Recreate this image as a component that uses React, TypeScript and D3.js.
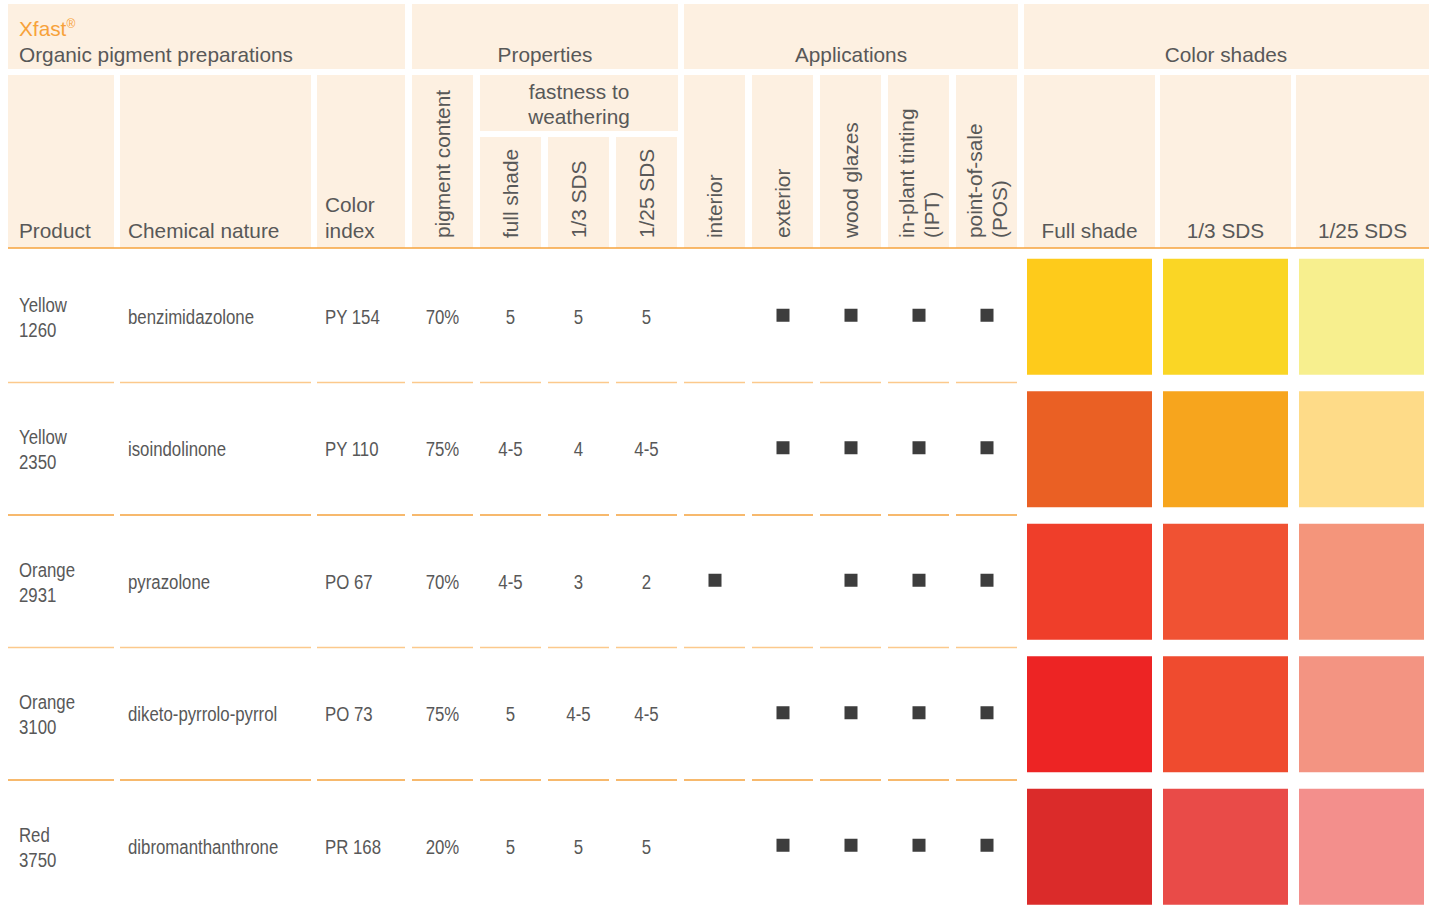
import * as d3 from "d3"

const productNames = ["Yellow", "Yellow", "Orange", "Orange", "Red"]
const productCodes = ["1260", "2350", "2931", "3100", "3750"]
const chemicalNature = ["benzimidazolone", "isoindolinone", "pyrazolone", "diketo-pyrrolo-pyrrol", "dibromanthanthrone"]
const colorIndex = ["PY 154", "PY 110", "PO 67", "PO 73", "PR 168"]
const pigmentContent = ["70%", "75%", "70%", "75%", "20%"]
const fastFull = ["5", "4-5", "4-5", "5", "5"]
const fastThird = ["5", "4", "3", "4-5", "5"]
const fastTwentyFifth = ["5", "4-5", "2", "4-5", "5"]

const appInterior = [false, false, true, false, false]
const appExterior = [true, true, false, true, true]
const appWood = [true, true, true, true, true]
const appIPT = [true, true, true, true, true]
const appPOS = [true, true, true, true, true]

const shadeNames = ["Full shade", "1/3 SDS", "1/25 SDS"]
const fullShadeColors = ["#fecb1b", "#ea6024", "#ef3e2a", "#ed2424", "#db2b2a"]
const thirdShadeColors = ["#fad625", "#f7a51d", "#f05233", "#ef4b2f", "#e94b48"]
const twentyFifthShadeColors = ["#f7ef8e", "#fedb88", "#f4957b", "#f39482", "#f38f8c"]

// layout
const W = 1434
const H = 911
const HEAD_BG = "#fdf0e1"
const TXT = "#585858"
const HEAD_FONT = "'Liberation Sans', Arial, sans-serif"
const DATA_FONT = "'Liberation Sans', Arial, sans-serif"
const NARROW = 0.8 // squeeze the data text into a condensed look

type Col = { key: string; x0: number; x1: number }
const cols: Col[] = [
  { key: "product", x0: 8, x1: 114 },
  { key: "chem", x0: 120, x1: 311 },
  { key: "ci", x0: 317, x1: 405 },
  { key: "pigment", x0: 412, x1: 473 },
  { key: "full", x0: 480, x1: 541 },
  { key: "third", x0: 548, x1: 609 },
  { key: "tf", x0: 616, x1: 677 },
  { key: "interior", x0: 684, x1: 745 },
  { key: "exterior", x0: 752, x1: 813 },
  { key: "wood", x0: 820, x1: 881 },
  { key: "ipt", x0: 888, x1: 949 },
  { key: "pos", x0: 956, x1: 1017 },
]
const colOf = (k: string) => cols.find((c) => c.key === k)!
const cx = (k: string) => (colOf(k).x0 + colOf(k).x1) / 2

const rowIdx = productCodes.map((_, i) => i)
const y = d3.scaleBand<number>().domain(rowIdx).range([250, 912.5]).padding(0)
const rowMid = (i: number) => (y(i) as number) + y.bandwidth() / 2

const xShade = d3.scaleBand<string>().domain(shadeNames).range([1021.5, 1429.5]).paddingInner(11 / 136).paddingOuter(5.5 / 136)
const shadeColors = [fullShadeColors, thirdShadeColors, twentyFifthShadeColors]

const rotHeads: { key: string; lines: string[] }[] = [
  { key: "pigment", lines: ["pigment content"] },
  { key: "full", lines: ["full shade"] },
  { key: "third", lines: ["1/3 SDS"] },
  { key: "tf", lines: ["1/25 SDS"] },
  { key: "interior", lines: ["interior"] },
  { key: "exterior", lines: ["exterior"] },
  { key: "wood", lines: ["wood glazes"] },
  { key: "ipt", lines: ["in-plant tinting", "(IPT)"] },
  { key: "pos", lines: ["point-of-sale", "(POS)"] },
]

const apps: [string, boolean[]][] = [
  ["interior", appInterior],
  ["exterior", appExterior],
  ["wood", appWood],
  ["ipt", appIPT],
  ["pos", appPOS],
]

function NText({ x, y, anchor, children }: { x: number; y: number; anchor?: string; children: any }) {
  return (
    <text transform={`translate(${x},${y}) scale(${NARROW},1)`} textAnchor={anchor}>
      {children}
    </text>
  )
}

export default function App() {
  const sepColor = (i: number) => (i % 2 === 0 ? "#fcc98c" : "#f5a23c")
  return (
    <svg width={W} height={H} style={{ position: "absolute", left: 0, top: 0, background: "#fff" }}>
      {/* header blocks */}
      <g fill={HEAD_BG}>
        <rect x={8} y={4} width={397} height={65} />
        <rect x={412} y={4} width={266} height={65} />
        <rect x={684} y={4} width={334} height={65} />
        <rect x={1024} y={4} width={405} height={65} />
        {cols.map((c) =>
          ["full", "third", "tf"].includes(c.key) ? (
            <rect key={c.key} x={c.x0} y={137} width={c.x1 - c.x0} height={111} />
          ) : (
            <rect key={c.key} x={c.x0} y={75} width={c.x1 - c.x0} height={173} />
          )
        )}
        <rect x={480} y={75} width={198} height={56} />
        {shadeNames.map((s, j) => (
          <rect key={s} x={[1024, 1160, 1296][j]} y={75} width={[131, 131, 133][j]} height={173} />
        ))}
      </g>
      <line x1={8} x2={1429} y1={248} y2={248} stroke="#f6a33d" strokeWidth={1.6} />

      <g fontFamily={HEAD_FONT} fontSize={20.8} fill={TXT}>
        <text x={19} y={36} fill="#f7a23a">
          Xfast<tspan fontSize={12} dy={-8}>®</tspan>
        </text>
        <text x={19} y={62}>Organic pigment preparations</text>
        <text x={545} y={62} textAnchor="middle">Properties</text>
        <text x={851} y={62} textAnchor="middle">Applications</text>
        <text x={1226} y={62} textAnchor="middle">Color shades</text>
        <text x={19} y={238}>Product</text>
        <text x={128} y={238}>Chemical nature</text>
        <text x={325} y={212}>Color</text>
        <text x={325} y={238}>index</text>
        <text x={579} y={99} textAnchor="middle">fastness to</text>
        <text x={579} y={124} textAnchor="middle">weathering</text>
        {shadeNames.map((s, j) => (
          <text key={s} x={[1089.5, 1225.5, 1362.5][j]} y={238} textAnchor="middle">
            {s}
          </text>
        ))}
        {rotHeads.map((h) =>
          h.lines.map((ln, k) => {
            const bx = h.lines.length === 1 ? cx(h.key) + 7 : cx(h.key) - 4.5 + k * 25
            return (
              <text key={h.key + k} transform={`translate(${bx},238) rotate(-90)`}>
                {ln}
              </text>
            )
          })
        )}
      </g>

      {/* row separators */}
      {rowIdx.slice(1).map((i) =>
        cols.map((c) => (
          <line
            key={i + c.key}
            x1={c.x0}
            x2={c.x1}
            y1={y(i) as number}
            y2={y(i) as number}
            stroke={sepColor(i - 1)}
            strokeWidth={1.6}
          />
        ))
      )}

      {/* data */}
      <g fontFamily={DATA_FONT} fontSize={21} fill={TXT}>
        {rowIdx.map((i) => {
          const m = rowMid(i)
          return (
            <g key={i}>
              <NText x={19} y={m - 4.5}>{productNames[i]}</NText>
              <NText x={19} y={m + 20.5}>{productCodes[i]}</NText>
              <NText x={128} y={m + 7.5}>{chemicalNature[i]}</NText>
              <NText x={325} y={m + 7.5}>{colorIndex[i]}</NText>
              <NText x={cx("pigment")} y={m + 7.5} anchor="middle">{pigmentContent[i]}</NText>
              <NText x={cx("full")} y={m + 7.5} anchor="middle">{fastFull[i]}</NText>
              <NText x={cx("third")} y={m + 7.5} anchor="middle">{fastThird[i]}</NText>
              <NText x={cx("tf")} y={m + 7.5} anchor="middle">{fastTwentyFifth[i]}</NText>
            </g>
          )
        })}
      </g>

      {/* application marks */}
      {apps.map(([k, vals]) =>
        vals.map((v, i) =>
          v ? <rect key={k + i} x={cx(k) - 6} y={rowMid(i) - 7.5} width={13} height={13} fill="#3d3d3d" /> : null
        )
      )}

      {/* color swatches */}
      {shadeNames.map((s, j) =>
        rowIdx.map((i) => (
          <rect
            key={s + i}
            x={xShade(s)}
            y={(y(i) as number) + 8.75}
            width={xShade.bandwidth()}
            height={116}
            fill={shadeColors[j][i]}
          />
        ))
      )}
    </svg>
  )
}
